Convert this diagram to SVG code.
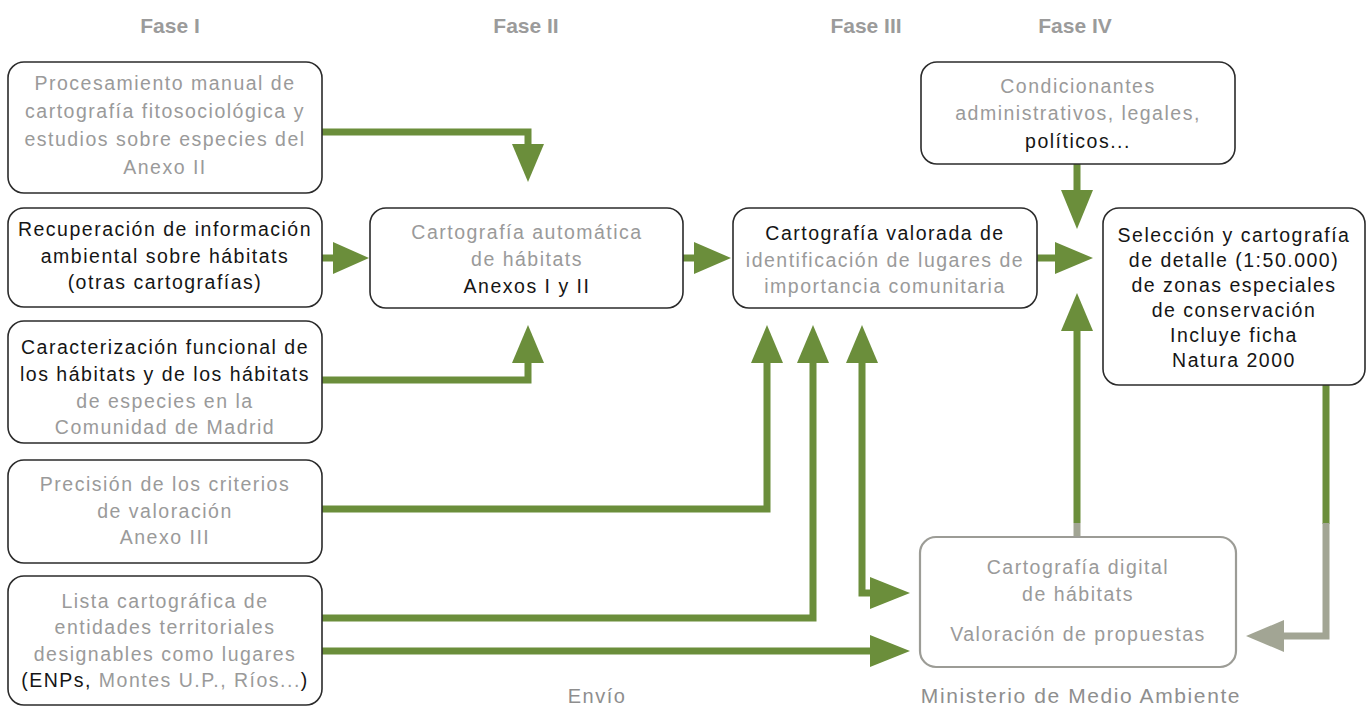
<svg xmlns="http://www.w3.org/2000/svg" width="1371" height="711" viewBox="0 0 1371 711">
<style>
.bg{fill:#ffffff}
.box{fill:#ffffff;stroke:#2b2b2b;stroke-width:1.6}
.boxg{fill:#ffffff;stroke:#9c9c96;stroke-width:2.2}
text{font-family:"Liberation Sans",Arial,sans-serif;font-size:19.5px;letter-spacing:1.5px;text-anchor:middle}
.g{fill:#9a9a9a}
.d{fill:#151515}
.phase{font-size:21px;font-weight:bold;fill:#9b9b9b;letter-spacing:0}
.lbl{fill:#8e8e8e;font-size:20px}
.lbl2{fill:#8e8e8e;font-size:21px;letter-spacing:1.6px}
.ln{fill:none;stroke:#6b8e3b;stroke-width:7;stroke-linejoin:miter;stroke-linecap:butt}
.lng{fill:none;stroke:#a2a594;stroke-width:7;stroke-linejoin:miter;stroke-linecap:butt}
.ah{fill:#6b8e3b}
.ahg{fill:#a2a594}
</style>
<rect class="bg" x="0" y="0" width="1371" height="711"/>

<g id="phases">
<text class="phase" x="170" y="33">Fase I</text>
<text class="phase" x="526" y="33">Fase II</text>
<text class="phase" x="866" y="33">Fase III</text>
<text class="phase" x="1075" y="33">Fase IV</text>
</g>

<g id="connectors">
<path class="ln" d="M322,132 H528 V145"/>
<polygon class="ah" points="512,144 544,144 528,182"/>
<path class="ln" d="M322,258 H335"/>
<polygon class="ah" points="333,242 333,274 369,258"/>
<path class="ln" d="M322,380 H528 V361"/>
<polygon class="ah" points="512,363 544,363 528,325"/>
<path class="ln" d="M683,258 H696"/>
<polygon class="ah" points="694,242 694,274 731,258"/>
<path class="ln" d="M322,509 H767 V361"/>
<polygon class="ah" points="751,363 783,363 767,325"/>
<path class="ln" d="M322,618 H813 V361"/>
<polygon class="ah" points="797,363 829,363 813,325"/>
<path class="ln" d="M862,361 V593 H872"/>
<polygon class="ah" points="846,363 878,363 862,325"/>
<polygon class="ah" points="870,577 870,609 910,593"/>
<path class="ln" d="M322,651 H872"/>
<polygon class="ah" points="870,635 870,667 910,651"/>
<path class="ln" d="M1037,258 H1057"/>
<polygon class="ah" points="1055,242 1055,274 1093,258"/>
<path class="ln" d="M1077,164 V192"/>
<polygon class="ah" points="1061,190 1093,190 1077,229"/>
<path class="ln" d="M1077,523 V329"/>
<path class="lng" d="M1077,537 V523"/>
<polygon class="ah" points="1061,331 1093,331 1077,293"/>
<path class="ln" d="M1326,385 V524"/>
<path class="lng" d="M1326,523 V636 H1282"/>
<polygon class="ahg" points="1284,620 1284,652 1246,636"/>
</g>

<g id="n-procesamiento">
<rect class="box" x="8" y="62" width="314" height="131" rx="16"/>
<text class="g" x="165" y="90">Procesamiento manual de</text>
<text class="g" x="165" y="118">cartografía fitosociológica y</text>
<text class="g" x="165" y="146">estudios sobre especies del</text>
<text class="g" x="165" y="174">Anexo II</text>
</g>

<g id="n-recuperacion">
<rect class="box" x="8" y="208" width="314" height="99" rx="16"/>
<text class="d" x="165" y="236">Recuperación de información</text>
<text class="d" x="165" y="263">ambiental sobre hábitats</text>
<text class="d" x="165" y="289">(otras cartografías)</text>
</g>

<g id="n-caracterizacion">
<rect class="box" x="8" y="321" width="314" height="122" rx="16"/>
<text class="d" x="165" y="354">Caracterización funcional de</text>
<text class="d" x="165" y="381">los hábitats y de los hábitats</text>
<text class="g" x="165" y="408">de especies en la</text>
<text class="g" x="165" y="434">Comunidad de Madrid</text>
</g>

<g id="n-precision">
<rect class="box" x="8" y="460" width="314" height="103" rx="16"/>
<text class="g" x="165" y="491">Precisión de los criterios</text>
<text class="g" x="165" y="518">de valoración</text>
<text class="g" x="165" y="544">Anexo III</text>
</g>

<g id="n-lista">
<rect class="box" x="8" y="576" width="314" height="129" rx="16"/>
<text class="g" x="165" y="608">Lista cartográfica de</text>
<text class="g" x="165" y="634">entidades territoriales</text>
<text class="g" x="165" y="661">designables como lugares</text>
<text x="165" y="687"><tspan class="d">(ENPs,</tspan><tspan class="g"> Montes U.P., Ríos...</tspan><tspan class="d">)</tspan></text>
</g>

<g id="n-automatica">
<rect class="box" x="370" y="208" width="313" height="100" rx="16"/>
<text class="g" x="527" y="239">Cartografía automática</text>
<text class="g" x="527" y="266">de hábitats</text>
<text class="d" x="527" y="293">Anexos I y II</text>
</g>

<g id="n-valorada">
<rect class="box" x="733" y="208" width="304" height="100" rx="16"/>
<text class="d" x="885" y="240">Cartografía valorada de</text>
<text class="g" x="885" y="267">identificación de lugares de</text>
<text class="g" x="885" y="293">importancia comunitaria</text>
</g>

<g id="n-condicionantes">
<rect class="box" x="921" y="62" width="314" height="102" rx="16"/>
<text class="g" x="1078" y="93">Condicionantes</text>
<text class="g" x="1078" y="120">administrativos, legales,</text>
<text class="d" x="1078" y="148">políticos...</text>
</g>

<g id="n-seleccion">
<rect class="box" x="1103" y="208" width="262" height="177" rx="16"/>
<text class="d" x="1234" y="242">Selección y cartografía</text>
<text class="d" x="1234" y="267">de detalle (1:50.000)</text>
<text class="d" x="1234" y="292">de zonas especiales</text>
<text class="d" x="1234" y="317">de conservación</text>
<text class="d" x="1234" y="342">Incluye ficha</text>
<text class="d" x="1234" y="367">Natura 2000</text>
</g>

<g id="n-digital">
<rect class="boxg" x="920" y="537" width="316" height="130" rx="16"/>
<text class="g" x="1078" y="574">Cartografía digital</text>
<text class="g" x="1078" y="601">de hábitats</text>
<text class="g" x="1078" y="641">Valoración de propuestas</text>
</g>

<g id="labels">
<text class="lbl" x="597" y="703">Envío</text>
<text class="lbl2" x="1081" y="703">Ministerio de Medio Ambiente</text>
</g>
</svg>
